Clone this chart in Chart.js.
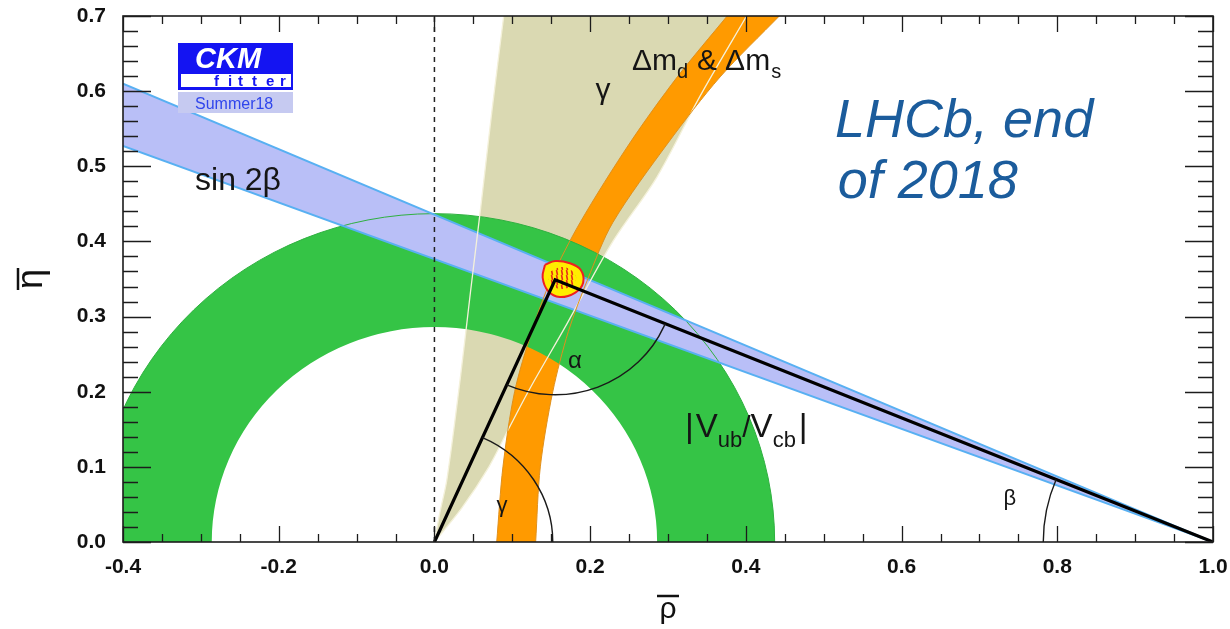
<!DOCTYPE html>
<html>
<head>
<meta charset="utf-8">
<script src="https://cdn.jsdelivr.net/npm/chart.js@4/dist/chart.umd.min.js"></script>
<style>
  html, body { margin: 0; padding: 0; background: #ffffff; }
  #wrap { width: 1230px; height: 629px; position: relative; }
</style>
</head>
<body>
<div id="wrap"><canvas id="ut" width="1230" height="629"></canvas></div>
<script>
// ---- axes ----------------------------------------------------------------
const xTickValues = [-0.4, -0.2, 0.0, 0.2, 0.4, 0.6, 0.8, 1.0];
const xTickLabels = ['-0.4', '-0.2', '0.0', '0.2', '0.4', '0.6', '0.8', '1.0'];
const yTickValues = [0.0, 0.1, 0.2, 0.3, 0.4, 0.5, 0.6, 0.7];
const yTickLabels = ['0.0', '0.1', '0.2', '0.3', '0.4', '0.5', '0.6', '0.7'];
const xMinorStep = 0.05;
const yMinorStep = 0.02;

// ---- gamma constraint (khaki wedge), edges listed bottom to top ----------
const gammaLeftEdge = [
  {x: 0.000, y: 0.000}, {x: 0.007, y: 0.039}, {x: 0.016, y: 0.083},
  {x: 0.033, y: 0.216}, {x: 0.046, y: 0.330}, {x: 0.060, y: 0.450},
  {x: 0.074, y: 0.575}, {x: 0.089, y: 0.700}
];
const gammaRightEdge = [
  {x: 0.000, y: 0.000}, {x: 0.035, y: 0.045}, {x: 0.070, y: 0.100},
  {x: 0.095, y: 0.150}, {x: 0.123, y: 0.205}, {x: 0.170, y: 0.290},
  {x: 0.228, y: 0.398}, {x: 0.286, y: 0.486}, {x: 0.341, y: 0.593},
  {x: 0.401, y: 0.700}
];

// ---- Δm_d & Δm_s band (orange), edges listed bottom to top ---------------
const dmInnerEdge = [
  {x: 0.080, y: 0.000}, {x: 0.088, y: 0.100}, {x: 0.103, y: 0.200},
  {x: 0.125, y: 0.280}, {x: 0.150, y: 0.350}, {x: 0.187, y: 0.425},
  {x: 0.251, y: 0.531}, {x: 0.312, y: 0.619}, {x: 0.376, y: 0.700}
];
const dmOuterEdge = [
  {x: 0.130, y: 0.000}, {x: 0.136, y: 0.100}, {x: 0.152, y: 0.200},
  {x: 0.172, y: 0.280}, {x: 0.197, y: 0.350}, {x: 0.229, y: 0.425},
  {x: 0.300, y: 0.531}, {x: 0.367, y: 0.619}, {x: 0.443, y: 0.700}
];

// ---- sin 2β band -----------------------------------------------------------
const sin2bUpperEdge = [{x: -0.4, y: 0.610}, {x: 1.0, y: 0.000}];
const sin2bLowerEdge = [{x: -0.4, y: 0.527}, {x: 1.0, y: 0.000}];

// ---- |Vub/Vcb| ring --------------------------------------------------------
const vubCentre = {x: 0.0, y: 0.0};
const vubRadii = [0.286, 0.437];

// ---- global fit at the apex -----------------------------------------------
const fitContour = [
  {x: 0.142, y: 0.369}, {x: 0.155, y: 0.374}, {x: 0.174, y: 0.371},
  {x: 0.188, y: 0.362}, {x: 0.191, y: 0.345}, {x: 0.181, y: 0.332},
  {x: 0.161, y: 0.326}, {x: 0.146, y: 0.334}, {x: 0.139, y: 0.352},
  {x: 0.142, y: 0.369}
];
const fitCore = [
  {x: 0.148, y: 0.360}, {x: 0.165, y: 0.366}, {x: 0.181, y: 0.356},
  {x: 0.178, y: 0.342}, {x: 0.160, y: 0.337}, {x: 0.147, y: 0.346},
  {x: 0.148, y: 0.360}
];

// ---- unitarity triangle ----------------------------------------------------
const apex = {x: 0.155, y: 0.349};
const triangle = [{x: 0.0, y: 0.0}, apex, {x: 1.0, y: 0.0}];
const zeroRhoLine = [{x: 0.0, y: 0.0}, {x: 0.0, y: 0.7}];
const arcRadius = {alpha: 0.153, beta: 0.218, gamma: 0.152};

// ---- styling ---------------------------------------------------------------
const FONT = '"Liberation Sans", Arial, Helvetica, sans-serif';
const C = {
  khaki: '#dad9b2', khakiLine: '#f4f1da',
  orange: '#ff9a00', orangeLine: '#e0901c',
  green: '#35c446', greenLine: '#2fb040',
  band: '#b9bff7', bandLine: '#58b0f2',
  fit: '#ffee00', fitLine: '#ee2020',
  label: '#1b5c9c', logo: '#1414f2'
};

// Outline of a region bounded by two edges; the top corners are repeated so
// the smoothed outline keeps sharp corners where it leaves the plot.
function closedShape(left, right) {
  const topL = left[left.length - 1], topR = right[right.length - 1];
  return left.concat([topL, topR], right.slice().reverse());
}

function hatchPattern() {
  const c = document.createElement('canvas');
  c.width = 5; c.height = 5;
  const g = c.getContext('2d');
  g.fillStyle = C.fit; g.fillRect(0, 0, 5, 5);
  g.strokeStyle = '#e83018'; g.lineWidth = 1.6;
  g.beginPath(); g.moveTo(1.5, 0); g.lineTo(2.5, 5); g.stroke();
  return g.createPattern(c, 'repeat');
}

const base = {showLine: true, pointRadius: 0, pointHoverRadius: 0, borderWidth: 0, tension: 0};

const datasets = [
  Object.assign({}, base, {label: 'gamma', data: closedShape(gammaLeftEdge, gammaRightEdge),
    fill: 'shape', backgroundColor: C.khaki, borderColor: 'transparent', tension: 0.3, order: 20}),
  Object.assign({}, base, {label: 'dm', data: closedShape(dmInnerEdge, dmOuterEdge),
    fill: 'shape', backgroundColor: C.orange, borderColor: 'transparent', tension: 0.3, order: 19}),
  Object.assign({}, base, {label: 'sin2b', data: sin2bUpperEdge.concat(sin2bLowerEdge.slice(0, 1)),
    fill: 'shape', backgroundColor: C.band, borderColor: 'transparent', order: 18}),
  Object.assign({}, base, {label: 'sin2b upper', data: sin2bUpperEdge, fill: false,
    borderColor: C.bandLine, borderWidth: 2, order: 17}),
  Object.assign({}, base, {label: 'sin2b lower', data: sin2bLowerEdge, fill: false,
    borderColor: C.bandLine, borderWidth: 2, order: 16}),
  Object.assign({}, base, {label: 'gamma left', data: gammaLeftEdge, fill: false,
    borderColor: C.khakiLine, borderWidth: 1.3, tension: 0.3, order: 15}),
  Object.assign({}, base, {label: 'gamma right', data: gammaRightEdge, fill: false,
    borderColor: C.khakiLine, borderWidth: 1.3, tension: 0.3, order: 14}),
  Object.assign({}, base, {label: 'dm inner', data: dmInnerEdge, fill: false,
    borderColor: C.orangeLine, borderWidth: 1, tension: 0.3, order: 13}),
  Object.assign({}, base, {label: 'dm outer', data: dmOuterEdge, fill: false,
    borderColor: C.orangeLine, borderWidth: 1, tension: 0.3, order: 12}),
  Object.assign({}, base, {label: 'fit', data: fitContour, fill: 'shape',
    backgroundColor: C.fit, borderColor: C.fitLine, borderWidth: 2, tension: 0.4, order: 11}),
  Object.assign({}, base, {label: 'fit core', data: fitCore, fill: 'shape',
    backgroundColor: hatchPattern(), borderColor: 'transparent', tension: 0.4, order: 10}),
  Object.assign({}, base, {label: 'triangle', data: triangle, fill: false,
    borderColor: '#000000', borderWidth: 3.2, borderJoinStyle: 'miter', order: 9}),
  Object.assign({}, base, {label: 'rho zero', data: zeroRhoLine, fill: false,
    borderColor: '#222222', borderWidth: 1.5, borderDash: [5, 5], order: 8})
];

function toPx(chart, p) {
  return [chart.scales.x.getPixelForValue(p.x), chart.scales.y.getPixelForValue(p.y)];
}
function radiiPx(chart, c, r) {
  const [cx, cy] = toPx(chart, c);
  return [chart.scales.x.getPixelForValue(c.x + r) - cx, cy - chart.scales.y.getPixelForValue(c.y + r)];
}
function clipArea(ctx, a) {
  ctx.beginPath(); ctx.rect(a.left, a.top, a.right - a.left, a.bottom - a.top); ctx.clip();
}

// |Vub/Vcb| ring sits between the Δm band and the sin 2β band
const ringPlugin = {
  id: 'vubRing',
  afterDatasetDraw(chart, args) {
    const label = chart.data.datasets[args.index].label;
    const ctx = chart.ctx;
    const [cx, cy] = toPx(chart, vubCentre);
    if (label === 'dm') {
      const [ri, ro] = vubRadii.map(r => radiiPx(chart, vubCentre, r));
      ctx.save(); clipArea(ctx, chart.chartArea);
      ctx.beginPath();
      ctx.ellipse(cx, cy, ro[0], ro[1], 0, 0, Math.PI * 2, false);
      ctx.ellipse(cx, cy, ri[0], ri[1], 0, 0, Math.PI * 2, true);
      ctx.fillStyle = C.green; ctx.fill('evenodd');
      ctx.restore();
    }
    if (label === 'sin2b') {
      const ro = radiiPx(chart, vubCentre, vubRadii[1]);
      ctx.save(); clipArea(ctx, chart.chartArea);
      ctx.beginPath();
      ctx.ellipse(cx, cy, ro[0], ro[1], 0, 0, Math.PI * 2, false);
      ctx.strokeStyle = C.greenLine; ctx.lineWidth = 1; ctx.stroke();
      ctx.restore();
    }
  }
};

function angleArc(ctx, chart, centre, r, fromDir, toDir) {
  const [cx, cy] = toPx(chart, centre);
  const [rx, ry] = radiiPx(chart, centre, r);
  const a1 = -Math.atan2(fromDir.y - centre.y, fromDir.x - centre.x);
  const a2 = -Math.atan2(toDir.y - centre.y, toDir.x - centre.x);
  ctx.beginPath();
  ctx.ellipse(cx, cy, rx, ry, 0, a1, a2, true);
  ctx.stroke();
}

function richText(ctx, x, y, parts) {
  let cx = x;
  for (const p of parts) {
    ctx.font = (p.style || '') + ' ' + p.size + 'px ' + FONT;
    ctx.fillText(p.t, cx, y + (p.dy || 0));
    cx += ctx.measureText(p.t).width + (p.gap || 0);
  }
}

const decorPlugin = {
  id: 'decor',
  afterDatasetsDraw(chart) {
    const ctx = chart.ctx;
    const origin = triangle[0], rightCorner = triangle[2];
    ctx.save(); clipArea(ctx, chart.chartArea);
    ctx.strokeStyle = '#1a1a1a'; ctx.lineWidth = 1.4;
    angleArc(ctx, chart, apex, arcRadius.alpha, origin, rightCorner);
    angleArc(ctx, chart, origin, arcRadius.gamma, {x: 1, y: 0}, apex);
    angleArc(ctx, chart, rightCorner, arcRadius.beta, apex, {x: 0, y: 0});
    ctx.restore();
  },
  afterDraw(chart) {
    const ctx = chart.ctx;
    const a = chart.chartArea;
    const xs = chart.scales.x, ys = chart.scales.y;
    ctx.save();

    // frame and inward ticks on all four sides
    ctx.strokeStyle = '#1c1c1c';
    ctx.lineWidth = 1.6;
    ctx.strokeRect(a.left, a.top, a.right - a.left, a.bottom - a.top);
    ctx.lineWidth = 1.3;
    const nx = Math.round((xs.max - xs.min) / xMinorStep);
    for (let i = 0; i <= nx; i++) {
      const v = xs.min + i * xMinorStep;
      const major = xTickValues.some(t => Math.abs(t - v) < 1e-6);
      const len = major ? 16 : 8;
      const p = Math.round(xs.getPixelForValue(v)) + 0.5;
      ctx.beginPath();
      ctx.moveTo(p, a.bottom); ctx.lineTo(p, a.bottom - len);
      ctx.moveTo(p, a.top); ctx.lineTo(p, a.top + len);
      ctx.stroke();
    }
    const ny = Math.round((ys.max - ys.min) / yMinorStep);
    for (let i = 0; i <= ny; i++) {
      const v = ys.min + i * yMinorStep;
      const major = yTickValues.some(t => Math.abs(t - v) < 1e-6);
      const len = major ? 28 : 15;
      const p = Math.round(ys.getPixelForValue(v)) + 0.5;
      ctx.beginPath();
      ctx.moveTo(a.left, p); ctx.lineTo(a.left + len, p);
      ctx.moveTo(a.right, p); ctx.lineTo(a.right - len, p);
      ctx.stroke();
    }

    // axis titles
    ctx.fillStyle = '#111111';
    ctx.textAlign = 'center'; ctx.textBaseline = 'alphabetic';
    ctx.font = '30px ' + FONT;
    ctx.fillText('ρ', 668, 618);
    ctx.lineWidth = 2.5; ctx.strokeStyle = '#111111';
    ctx.beginPath(); ctx.moveTo(657, 596); ctx.lineTo(679, 596); ctx.stroke();
    ctx.save();
    ctx.translate(42, 279); ctx.rotate(-Math.PI / 2);
    ctx.font = '36px ' + FONT;
    ctx.fillText('η', 0, 0);
    ctx.beginPath(); ctx.moveTo(-11, -24); ctx.lineTo(11, -24); ctx.stroke();
    ctx.restore();

    // constraint labels
    ctx.fillStyle = '#151515';
    ctx.textAlign = 'left'; ctx.textBaseline = 'alphabetic';
    let p = toPx(chart, {x: -0.3075, y: 0.469});
    richText(ctx, p[0], p[1], [{t: 'sin 2β', size: 32}]);
    p = toPx(chart, {x: 0.2537, y: 0.6285});
    richText(ctx, p[0], p[1], [
      {t: 'Δm', size: 30}, {t: 'd', size: 20, dy: 8, gap: 9},
      {t: '&', size: 30, gap: 8}, {t: 'Δm', size: 30, gap: 1}, {t: 's', size: 20, dy: 8}
    ]);
    p = toPx(chart, {x: 0.3218, y: 0.1398});
    richText(ctx, p[0], p[1], [
      {t: '|', size: 34, gap: 2}, {t: 'V', size: 33}, {t: 'ub', size: 22, dy: 10},
      {t: '/', size: 30}, {t: 'V', size: 33}, {t: 'cb', size: 22, dy: 10, gap: 3},
      {t: '|', size: 34}
    ]);
    ctx.textAlign = 'center'; ctx.textBaseline = 'middle';
    p = toPx(chart, {x: 0.2165, y: 0.600});
    ctx.font = '30px ' + FONT; ctx.fillText('γ', p[0], p[1]);
    p = toPx(chart, {x: 0.1805, y: 0.241});
    ctx.font = '24px ' + FONT; ctx.fillText('α', p[0], p[1]);
    p = toPx(chart, {x: 0.0868, y: 0.048});
    ctx.font = '22px ' + FONT; ctx.fillText('γ', p[0], p[1]);
    p = toPx(chart, {x: 0.739, y: 0.057});
    ctx.font = '22px ' + FONT; ctx.fillText('β', p[0], p[1]);

    // experiment note
    ctx.textAlign = 'left'; ctx.textBaseline = 'alphabetic';
    ctx.fillStyle = C.label;
    ctx.font = 'italic 54px ' + FONT;
    p = toPx(chart, {x: 0.5145, y: 0.539});
    ctx.fillText('LHCb, end', p[0], p[1]);
    p = toPx(chart, {x: 0.518, y: 0.458});
    ctx.fillText('of 2018', p[0], p[1]);

    // CKMfitter badge
    p = toPx(chart, {x: -0.3294, y: 0.6644});
    const bx = Math.round(p[0]), by = Math.round(p[1]);
    ctx.fillStyle = C.logo;
    ctx.fillRect(bx, by, 115, 47);
    ctx.fillStyle = '#ffffff';
    ctx.fillRect(bx + 3, by + 31, 110, 13);
    ctx.fillStyle = '#c6caf1';
    ctx.fillRect(bx, by + 49, 115, 21);
    ctx.fillStyle = '#ffffff';
    ctx.font = 'italic bold 29px ' + FONT;
    ctx.fillText('CKM', bx + 17, by + 25);
    ctx.fillStyle = C.logo;
    ctx.font = 'bold 15px ' + FONT;
    const letters = ['f', 'i', 't', 't', 'e', 'r'];
    const lx = [38, 52, 62, 76, 90, 104];
    letters.forEach((ch, i) => ctx.fillText(ch, bx + lx[i] - 2, by + 43));
    ctx.fillStyle = '#2f45ec';
    ctx.font = '16px ' + FONT;
    ctx.fillText('Summer18', bx + 17, by + 66);

    ctx.restore();
  }
};

new Chart(document.getElementById('ut'), {
  type: 'scatter',
  data: {datasets: datasets},
  plugins: [ringPlugin, decorPlugin],
  options: {
    responsive: false,
    animation: false,
    events: [],
    devicePixelRatio: 1,
    layout: {padding: {top: 16, right: 17, left: 0, bottom: 0}},
    plugins: {legend: {display: false}, tooltip: {enabled: false}},
    scales: {
      x: {
        type: 'linear', min: -0.4, max: 1.0,
        afterFit: s => { s.height = 87; s.paddingLeft = 0; s.paddingRight = 0; },
        afterBuildTicks: s => { s.ticks = xTickValues.map(v => ({value: v})); },
        grid: {display: false, drawTicks: false},
        border: {display: false},
        ticks: {
          padding: 13, maxRotation: 0, autoSkip: false, color: '#111111',
          font: {family: FONT, size: 21, weight: 'bold'},
          callback: (v, i) => xTickLabels[i]
        }
      },
      y: {
        type: 'linear', min: 0.0, max: 0.7,
        afterFit: s => { s.width = 123; s.paddingTop = 0; s.paddingBottom = 0; },
        afterBuildTicks: s => { s.ticks = yTickValues.map(v => ({value: v})); },
        grid: {display: false, drawTicks: false},
        border: {display: false},
        ticks: {
          padding: 17, color: '#111111',
          font: {family: FONT, size: 21, weight: 'bold'},
          callback: (v, i) => yTickLabels[i]
        }
      }
    }
  }
});
</script>
</body>
</html>
